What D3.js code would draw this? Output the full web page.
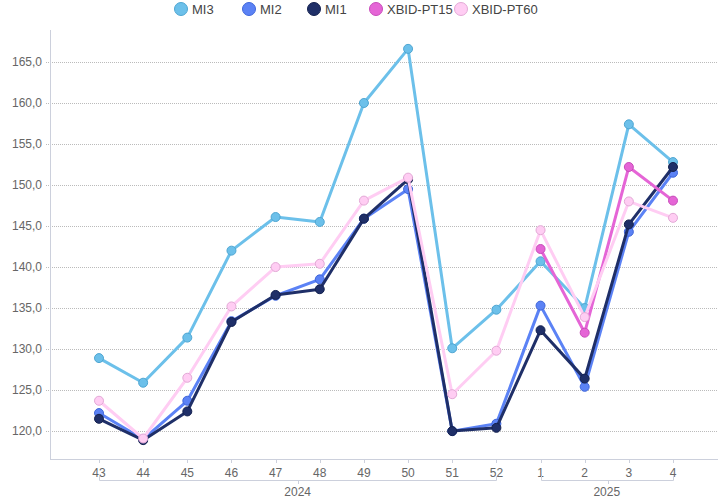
<!DOCTYPE html>
<html>
<head>
<meta charset="utf-8">
<script src="https://d3js.org/d3.v7.min.js"></script>
<style>
  body { margin: 0; background: #fff; }
  * { font-family: "Liberation Sans", Arial, sans-serif; }
  .legend text { font-size: 13px; fill: #444; }
  .tick-label { font-size: 12px; fill: #666; }
</style>
</head>
<body>
<div id="chart"></div>
<script>
var width = 718;
var height = 504;

var weeks = ["43", "44", "45", "46", "47", "48", "49", "50", "51", "52", "1", "2", "3", "4"];
var years = [
  { label: "2024", from: "43", to: "52" },
  { label: "2025", from: "1", to: "4" }
];
var yTicks = [120, 125, 130, 135, 140, 145, 150, 155, 160, 165];

var mi3 = [128.9, 125.9, 131.4, 142.0, 146.1, 145.5, 160.0, 166.6, 130.1, 134.8, 140.7, 135.0, 157.4, 152.8];
var mi2 = [122.2, 119.0, 123.7, 133.4, 136.5, 138.5, 145.9, 149.5, 120.0, 120.9, 135.3, 125.4, 144.3, 151.5];
var mi1 = [121.5, 118.9, 122.4, 133.3, 136.6, 137.3, 145.9, 150.7, 120.0, 120.4, 132.3, 126.4, 145.2, 152.2];
var pt15 = [null, null, null, null, null, null, null, null, null, null, 142.2, 132.0, 152.2, 148.1];
var pt60 = [123.7, 119.1, 126.5, 135.2, 140.0, 140.4, 148.1, 150.9, 124.5, 129.8, 144.5, 133.9, 148.0, 146.0];

var series = [
  { name: "MI3", values: mi3, color: "#6cc0ea", stroke: "#4fa6d2" },
  { name: "MI2", values: mi2, color: "#5b82f5", stroke: "#3f66da" },
  { name: "MI1", values: mi1, color: "#1f2f68", stroke: "#14214f" },
  { name: "XBID-PT15", values: pt15, color: "#e565d6", stroke: "#c84cba" },
  { name: "XBID-PT60", values: pt60, color: "#ffcdf3", stroke: "#e3a9d6" }
];

var locale = d3.formatLocale({ decimal: ",", thousands: ".", grouping: [3], currency: ["", "€"] });
var fmt = locale.format(".1f");

var plotLeft = 50, plotRight = 718, plotTop = 30, plotBottom = 459;

var x = d3.scalePoint().domain(weeks).range([99, 673]);
var y = d3.scaleLinear().domain([116.6, 168.9]).range([plotBottom, plotTop]);

var svg = d3.select("#chart").append("svg")
  .attr("width", width)
  .attr("height", height);

// grid
svg.append("g")
  .selectAll("line")
  .data(yTicks)
  .enter().append("line")
  .attr("x1", plotLeft - 4)
  .attr("x2", plotRight)
  .attr("y1", function(d) { return Math.round(y(d)) + 0.5; })
  .attr("y2", function(d) { return Math.round(y(d)) + 0.5; })
  .attr("stroke", "#bbb")
  .attr("stroke-dasharray", "1,1");

svg.append("g")
  .selectAll("text")
  .data(yTicks)
  .enter().append("text")
  .attr("class", "tick-label")
  .attr("x", 42)
  .attr("y", function(d) { return y(d); })
  .attr("dy", "0.35em")
  .attr("text-anchor", "end")
  .text(function(d) { return fmt(d); });

// axes lines
svg.append("line")
  .attr("x1", plotLeft + 0.5).attr("x2", plotLeft + 0.5)
  .attr("y1", plotTop).attr("y2", plotBottom)
  .attr("stroke", "#ccd0dc");
svg.append("line")
  .attr("x1", plotLeft).attr("x2", plotRight)
  .attr("y1", plotBottom + 0.5).attr("y2", plotBottom + 0.5)
  .attr("stroke", "#ccd0dc");

// x ticks
var xg = svg.append("g");
xg.selectAll("line")
  .data(weeks)
  .enter().append("line")
  .attr("x1", function(d) { return Math.round(x(d)) + 0.5; })
  .attr("x2", function(d) { return Math.round(x(d)) + 0.5; })
  .attr("y1", plotBottom)
  .attr("y2", plotBottom + 4)
  .attr("stroke", "#ccd0dc");
xg.selectAll("text")
  .data(weeks)
  .enter().append("text")
  .attr("class", "tick-label")
  .attr("x", function(d) { return x(d); })
  .attr("y", 477)
  .attr("text-anchor", "middle")
  .text(function(d) { return d; });

// year brackets
var yb = svg.append("g").selectAll("g")
  .data(years)
  .enter().append("g");
yb.append("path")
  .attr("d", function(d) {
    var x0 = Math.round(x(d.from)) + 0.5, x1 = Math.round(x(d.to)) + 0.5, c = Math.round((x0 + x1) / 2) + 0.5;
    return "M" + x0 + ",476V480.5H" + x1 + "V476M" + c + ",480.5V484";
  })
  .attr("fill", "none")
  .attr("stroke", "#ccd0dc");
yb.append("text")
  .attr("class", "tick-label")
  .attr("x", function(d) { return (x(d.from) + x(d.to)) / 2; })
  .attr("y", 496)
  .attr("text-anchor", "middle")
  .text(function(d) { return d.label; });

// lines
var line = d3.line()
  .defined(function(d) { return d != null; })
  .x(function(d, i) { return x(weeks[i]); })
  .y(function(d) { return y(d); });

series.forEach(function(s) {
  var g = svg.append("g");
  g.append("path")
    .datum(s.values)
    .attr("fill", "none")
    .attr("stroke", s.color)
    .attr("stroke-width", 3)
    .attr("stroke-linejoin", "round")
    .attr("d", line);
  g.selectAll("circle")
    .data(s.values.map(function(v, i) { return { v: v, w: weeks[i] }; }).filter(function(d) { return d.v != null; }))
    .enter().append("circle")
    .attr("cx", function(d) { return x(d.w); })
    .attr("cy", function(d) { return y(d.v); })
    .attr("r", 4.5)
    .attr("fill", s.color)
    .attr("stroke", s.stroke)
    .attr("stroke-width", 1);
});

// legend
var legendX = [181, 249, 314, 376, 461];
var lg = svg.append("g").attr("class", "legend")
  .selectAll("g")
  .data(series)
  .enter().append("g")
  .attr("transform", function(d, i) { return "translate(" + legendX[i] + ",9)"; });
lg.append("circle")
  .attr("r", 6.5)
  .attr("fill", function(d) { return d.color; })
  .attr("stroke", function(d) { return d.stroke; })
  .attr("stroke-width", 1);
lg.append("text")
  .attr("x", 11)
  .attr("dy", "0.35em")
  .text(function(d) { return d.name; });
</script>
</body>
</html>
